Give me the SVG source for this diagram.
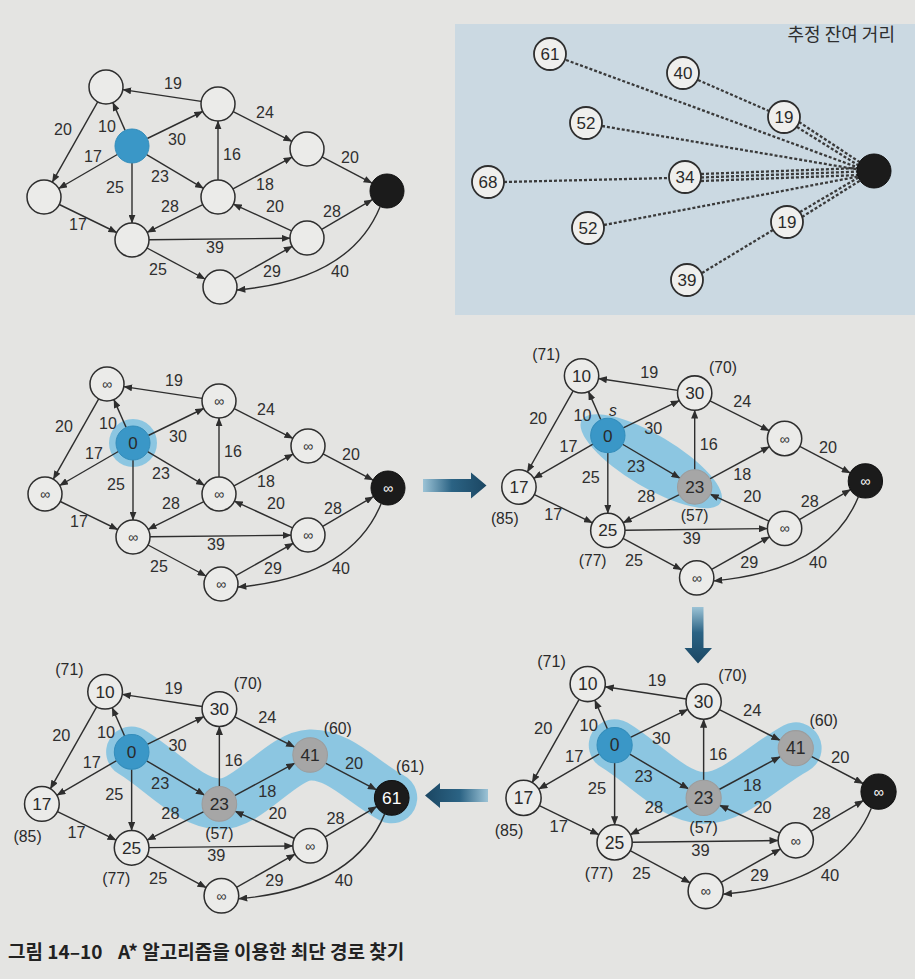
<svg xmlns="http://www.w3.org/2000/svg" width="915" height="979" viewBox="0 0 915 979">
<defs>
<style>
.e{fill:none;stroke:#2e2e2e;stroke-width:1.4;marker-end:url(#ah)}
.n{fill:#ebebe9;stroke:#2e2e2e;stroke-width:1.5}
.ns{fill:#3a97c7;stroke:#338dbb;stroke-width:1}
.nv{fill:#a6a6a6;stroke:#9c9c9c;stroke-width:1}
.nt{fill:#1b1b1b;stroke:#111;stroke-width:1}
.l{font-family:"Liberation Sans",Arial,sans-serif;font-size:16px;fill:#2f2f2f;text-anchor:middle}
.a{font-family:"Liberation Sans",Arial,sans-serif;font-size:15.5px;fill:#2a2a2a;text-anchor:middle}
.v{font-family:"Liberation Sans",Arial,sans-serif;font-size:17px;fill:#2a2a2a;text-anchor:middle}
.vw{font-family:"Liberation Sans",Arial,sans-serif;font-size:17px;fill:#ffffff;text-anchor:middle}
.inf{font-family:"Liberation Sans",Arial,sans-serif;font-size:14px;fill:#333;text-anchor:middle}
.infw{font-family:"Liberation Sans",Arial,sans-serif;font-size:14px;fill:#fff;text-anchor:middle}
.halo{fill:none;stroke:#7dc1e1;stroke-opacity:0.85;stroke-linecap:round;stroke-linejoin:round}
.hf{fill:#7dc1e1;fill-opacity:0.85}
.dot{fill:none;stroke:#3a3a3a;stroke-width:2.3;stroke-dasharray:3 2}
.sn{fill:#efefed;stroke:#2e2e2e;stroke-width:1.8}
.sv{font-family:"Liberation Sans",Arial,sans-serif;font-size:17px;fill:#2a2a2a;text-anchor:middle}
.cap{font-family:"Noto Sans CJK KR","Liberation Sans",sans-serif;font-size:19px;font-weight:bold;fill:#222}
</style>
<marker id="ah" viewBox="0 0 10 8" refX="9.5" refY="4" markerWidth="9" markerHeight="7" markerUnits="userSpaceOnUse" orient="auto"><path d="M0,0L10,4L0,8z" fill="#2e2e2e"/></marker>
<linearGradient id="gR" x1="423" y1="0" x2="487" y2="0" gradientUnits="userSpaceOnUse"><stop offset="0" stop-color="#9cc3d6"/><stop offset="0.45" stop-color="#2b6384"/><stop offset="1" stop-color="#1b4662"/></linearGradient>
<linearGradient id="gD" x1="0" y1="607" x2="0" y2="664" gradientUnits="userSpaceOnUse"><stop offset="0" stop-color="#9cc3d6"/><stop offset="0.45" stop-color="#2b6384"/><stop offset="1" stop-color="#1b4662"/></linearGradient>
<linearGradient id="gL" x1="488" y1="0" x2="425" y2="0" gradientUnits="userSpaceOnUse"><stop offset="0" stop-color="#9cc3d6"/><stop offset="0.45" stop-color="#2b6384"/><stop offset="1" stop-color="#1b4662"/></linearGradient>
</defs>
<rect x="0" y="0" width="915" height="979" fill="#e4e4e2"/>

<!-- Panel 1 -->
<g id="panel1">
<g id="p1-edges">
<path class="e" d="M201.2,101.4L122.8,89.6"/><path class="e" d="M97.7,101.8L52.3,182.2"/><path class="e" d="M125.1,130.4L112.9,102.6"/><path class="e" d="M147.3,138.5L202.7,111.5"/><path class="e" d="M117.3,154.5L58.7,188.5"/><path class="e" d="M146.6,154.7L203.4,188.3"/><path class="e" d="M132,163L132,223"/><path class="e" d="M218,180L218,121"/><path class="e" d="M233.2,111.7L291.8,141.3"/><path class="e" d="M233,188.9L292,157.1"/><path class="e" d="M322,156.9L372,183.1"/><path class="e" d="M202.8,204.6L147.2,232.4"/><path class="e" d="M291.6,230.9L233.4,204.1"/><path class="e" d="M321.7,229.4L372.3,199.6"/><path class="e" d="M59.3,204.5L116.7,232.5"/><path class="e" d="M149,239.8L290,238.2"/><path class="e" d="M147,248L205,279"/><path class="e" d="M234.8,278.7L292.2,246.3"/><path class="e" d="M380,207Q350,280 237,290"/>
</g>
<g id="p1-labels">
<text class="l" x="173" y="89">19</text><text class="l" x="63" y="135">20</text><text class="l" x="107" y="132">10</text><text class="l" x="177" y="145">30</text><text class="l" x="265" y="118">24</text><text class="l" x="93" y="162">17</text><text class="l" x="232" y="160">16</text><text class="l" x="350" y="163">20</text><text class="l" x="160" y="182">23</text><text class="l" x="115" y="193">25</text><text class="l" x="265" y="190">18</text><text class="l" x="170" y="212">28</text><text class="l" x="275" y="212">20</text><text class="l" x="332" y="217">28</text><text class="l" x="78" y="230">17</text><text class="l" x="215" y="253">39</text><text class="l" x="158" y="275">25</text><text class="l" x="272" y="277">29</text><text class="l" x="340" y="277">40</text>
</g>
<g id="p1-A"><circle class="n" cx="106" cy="87" r="17"/></g>
<g id="p1-B"><circle class="n" cx="218" cy="104" r="17"/></g>
<g id="p1-S"><circle class="ns" cx="132" cy="146" r="17"/></g>
<g id="p1-C"><circle class="n" cx="307" cy="149" r="17"/></g>
<g id="p1-T"><circle class="nt" cx="387" cy="191" r="17"/></g>
<g id="p1-D"><circle class="n" cx="44" cy="197" r="17"/></g>
<g id="p1-E"><circle class="n" cx="218" cy="197" r="17"/></g>
<g id="p1-F"><circle class="n" cx="132" cy="240" r="17"/></g>
<g id="p1-G"><circle class="n" cx="307" cy="238" r="17"/></g>
<g id="p1-H"><circle class="n" cx="220" cy="287" r="17"/></g>
</g>

<!-- Estimated remaining distance panel -->
<g id="heuristic">
<rect x="455" y="24" width="460" height="291" fill="#cbd9e2"/>
<text x="895" y="41" font-family="Noto Sans CJK KR, Liberation Sans, sans-serif" font-size="18" fill="#2e2e2e" text-anchor="end">추정 잔여 거리</text>
<g id="h-lines">
<line class="dot" x1="566" y1="60" x2="862" y2="169"/>
<line class="dot" x1="698" y1="80" x2="769" y2="111"/>
<line class="dot" x1="799" y1="122" x2="861" y2="163"/>
<line class="dot" x1="797" y1="127" x2="861" y2="167"/>
<line class="dot" x1="602" y1="126" x2="861" y2="170"/>
<line class="dot" x1="504" y1="182" x2="669" y2="178"/>
<line class="dot" x1="701" y1="174" x2="861" y2="168"/>
<line class="dot" x1="701" y1="177.5" x2="861" y2="171.5"/>
<line class="dot" x1="701" y1="181" x2="861" y2="175"/>
<line class="dot" x1="604" y1="225" x2="861" y2="176"/>
<line class="dot" x1="702" y1="273" x2="773" y2="230"/>
<line class="dot" x1="800" y1="212" x2="861" y2="176"/>
<line class="dot" x1="802" y1="217" x2="861" y2="180"/>
</g>
<g id="h-61"><circle class="sn" cx="550" cy="54" r="16"/><text class="sv" x="550" y="60">61</text></g>
<g id="h-40"><circle class="sn" cx="683" cy="73" r="16"/><text class="sv" x="683" y="79">40</text></g>
<g id="h-19a"><circle class="sn" cx="784" cy="117" r="16"/><text class="sv" x="784" y="123">19</text></g>
<g id="h-52a"><circle class="sn" cx="586" cy="123" r="16"/><text class="sv" x="586" y="129">52</text></g>
<g id="h-68"><circle class="sn" cx="488" cy="182" r="16"/><text class="sv" x="488" y="188">68</text></g>
<g id="h-34"><circle class="sn" cx="685" cy="177" r="16"/><text class="sv" x="685" y="183">34</text></g>
<g id="h-52b"><circle class="sn" cx="588" cy="228" r="16"/><text class="sv" x="588" y="234">52</text></g>
<g id="h-19b"><circle class="sn" cx="787" cy="222" r="16"/><text class="sv" x="787" y="228">19</text></g>
<g id="h-39"><circle class="sn" cx="687" cy="280" r="16"/><text class="sv" x="687" y="286">39</text></g>
<g id="h-goal"><circle class="nt" cx="874" cy="171" r="17"/></g>
</g>

<!-- Panel 2 -->
<g id="panel2" transform="translate(1,297)">
<circle class="hf" cx="132" cy="146" r="24"/>
<g id="p2-edges">
<path class="e" d="M201.2,101.4L122.8,89.6"/><path class="e" d="M97.7,101.8L52.3,182.2"/><path class="e" d="M125.1,130.4L112.9,102.6"/><path class="e" d="M147.3,138.5L202.7,111.5"/><path class="e" d="M117.3,154.5L58.7,188.5"/><path class="e" d="M146.6,154.7L203.4,188.3"/><path class="e" d="M132,163L132,223"/><path class="e" d="M218,180L218,121"/><path class="e" d="M233.2,111.7L291.8,141.3"/><path class="e" d="M233,188.9L292,157.1"/><path class="e" d="M322,156.9L372,183.1"/><path class="e" d="M202.8,204.6L147.2,232.4"/><path class="e" d="M291.6,230.9L233.4,204.1"/><path class="e" d="M321.7,229.4L372.3,199.6"/><path class="e" d="M59.3,204.5L116.7,232.5"/><path class="e" d="M149,239.8L290,238.2"/><path class="e" d="M147,248L205,279"/><path class="e" d="M234.8,278.7L292.2,246.3"/><path class="e" d="M380,207Q350,280 237,290"/>
</g>
<g id="p2-labels">
<text class="l" x="173" y="89">19</text><text class="l" x="63" y="135">20</text><text class="l" x="107" y="132">10</text><text class="l" x="177" y="145">30</text><text class="l" x="265" y="118">24</text><text class="l" x="93" y="162">17</text><text class="l" x="232" y="160">16</text><text class="l" x="350" y="163">20</text><text class="l" x="160" y="182">23</text><text class="l" x="115" y="193">25</text><text class="l" x="265" y="190">18</text><text class="l" x="170" y="212">28</text><text class="l" x="275" y="212">20</text><text class="l" x="332" y="217">28</text><text class="l" x="78" y="230">17</text><text class="l" x="215" y="253">39</text><text class="l" x="158" y="275">25</text><text class="l" x="272" y="277">29</text><text class="l" x="340" y="277">40</text>
</g>
<g id="p2-A"><circle class="n" cx="106" cy="87" r="17"/><text class="inf" x="106" y="92">∞</text></g>
<g id="p2-B"><circle class="n" cx="218" cy="104" r="17"/><text class="inf" x="218" y="109">∞</text></g>
<g id="p2-S"><circle class="ns" cx="132" cy="146" r="17"/><text class="v" x="132" y="152">0</text></g>
<g id="p2-C"><circle class="n" cx="307" cy="149" r="17"/><text class="inf" x="307" y="154">∞</text></g>
<g id="p2-T"><circle class="nt" cx="387" cy="191" r="17"/><text class="infw" x="387" y="196">∞</text></g>
<g id="p2-D"><circle class="n" cx="44" cy="197" r="17"/><text class="inf" x="44" y="202">∞</text></g>
<g id="p2-E"><circle class="n" cx="218" cy="197" r="17"/><text class="inf" x="218" y="202">∞</text></g>
<g id="p2-F"><circle class="n" cx="132" cy="240" r="17"/><text class="inf" x="132" y="245">∞</text></g>
<g id="p2-G"><circle class="n" cx="307" cy="238" r="17"/><text class="inf" x="307" y="243">∞</text></g>
<g id="p2-H"><circle class="n" cx="220" cy="287" r="17"/><text class="inf" x="220" y="292">∞</text></g>
</g>

<!-- Panel 3 -->
<g id="panel3" transform="translate(474.5,288) scale(1.01)">
<ellipse class="hf" cx="175" cy="171.5" rx="80" ry="26" transform="rotate(30.7 175 171.5)"/>
<g id="p3-edges">
<path class="e" d="M201.2,101.4L122.8,89.6"/><path class="e" d="M97.7,101.8L52.3,182.2"/><path class="e" d="M125.1,130.4L112.9,102.6"/><path class="e" d="M147.3,138.5L202.7,111.5"/><path class="e" d="M117.3,154.5L58.7,188.5"/><path class="e" d="M146.6,154.7L203.4,188.3"/><path class="e" d="M132,163L132,223"/><path class="e" d="M218,180L218,121"/><path class="e" d="M233.2,111.7L291.8,141.3"/><path class="e" d="M233,188.9L292,157.1"/><path class="e" d="M322,156.9L372,183.1"/><path class="e" d="M202.8,204.6L147.2,232.4"/><path class="e" d="M291.6,230.9L233.4,204.1"/><path class="e" d="M321.7,229.4L372.3,199.6"/><path class="e" d="M59.3,204.5L116.7,232.5"/><path class="e" d="M149,239.8L290,238.2"/><path class="e" d="M147,248L205,279"/><path class="e" d="M234.8,278.7L292.2,246.3"/><path class="e" d="M380,207Q350,280 237,290"/>
</g>
<g id="p3-labels">
<text class="l" x="173" y="89">19</text><text class="l" x="63" y="135">20</text><text class="l" x="107" y="132">10</text><text class="l" x="177" y="145">30</text><text class="l" x="265" y="118">24</text><text class="l" x="93" y="162">17</text><text class="l" x="232" y="160">16</text><text class="l" x="350" y="163">20</text><text class="l" x="160" y="182">23</text><text class="l" x="115" y="193">25</text><text class="l" x="265" y="190">18</text><text class="l" x="170" y="212">28</text><text class="l" x="275" y="212">20</text><text class="l" x="332" y="217">28</text><text class="l" x="78" y="230">17</text><text class="l" x="215" y="253">39</text><text class="l" x="158" y="275">25</text><text class="l" x="272" y="277">29</text><text class="l" x="340" y="277">40</text>
</g>
<g id="p3-notes">
<text class="a" x="71" y="71">(71)</text><text class="a" x="246" y="84">(70)</text><text class="a" x="137" y="127" font-style="italic">s</text><text class="a" x="30" y="234">(85)</text><text class="a" x="218" y="231">(57)</text><text class="a" x="117" y="275">(77)</text>
</g>
<g id="p3-A"><circle class="n" cx="106" cy="87" r="17"/><text class="v" x="106" y="93">10</text></g>
<g id="p3-B"><circle class="n" cx="218" cy="104" r="17"/><text class="v" x="218" y="110">30</text></g>
<g id="p3-S"><circle class="ns" cx="132" cy="146" r="17"/><text class="v" x="132" y="152">0</text></g>
<g id="p3-C"><circle class="n" cx="307" cy="149" r="17"/><text class="inf" x="307" y="154">∞</text></g>
<g id="p3-T"><circle class="nt" cx="387" cy="191" r="17"/><text class="infw" x="387" y="196">∞</text></g>
<g id="p3-D"><circle class="n" cx="44" cy="197" r="17"/><text class="v" x="44" y="203">17</text></g>
<g id="p3-E"><circle class="nv" cx="218" cy="197" r="17"/><text class="v" x="218" y="203">23</text></g>
<g id="p3-F"><circle class="n" cx="132" cy="240" r="17"/><text class="v" x="132" y="246">25</text></g>
<g id="p3-G"><circle class="n" cx="307" cy="238" r="17"/><text class="inf" x="307" y="243">∞</text></g>
<g id="p3-H"><circle class="n" cx="220" cy="287" r="17"/><text class="inf" x="220" y="292">∞</text></g>
</g>

<!-- Panel 4 (bottom-left) -->
<g id="panel4" transform="translate(-3,603) scale(1.02)">
<path class="halo" stroke-width="50" d="M132,146C160.7,163 188.8,196.5 218,197C247.2,197.5 278.8,150 307,149C335.2,148 360.3,177 387,191"/>
<g id="p4-edges">
<path class="e" d="M201.2,101.4L122.8,89.6"/><path class="e" d="M97.7,101.8L52.3,182.2"/><path class="e" d="M125.1,130.4L112.9,102.6"/><path class="e" d="M147.3,138.5L202.7,111.5"/><path class="e" d="M117.3,154.5L58.7,188.5"/><path class="e" d="M146.6,154.7L203.4,188.3"/><path class="e" d="M132,163L132,223"/><path class="e" d="M218,180L218,121"/><path class="e" d="M233.2,111.7L291.8,141.3"/><path class="e" d="M233,188.9L292,157.1"/><path class="e" d="M322,156.9L372,183.1"/><path class="e" d="M202.8,204.6L147.2,232.4"/><path class="e" d="M291.6,230.9L233.4,204.1"/><path class="e" d="M321.7,229.4L372.3,199.6"/><path class="e" d="M59.3,204.5L116.7,232.5"/><path class="e" d="M149,239.8L290,238.2"/><path class="e" d="M147,248L205,279"/><path class="e" d="M234.8,278.7L292.2,246.3"/><path class="e" d="M380,207Q350,280 237,290"/>
</g>
<g id="p4-labels">
<text class="l" x="173" y="89">19</text><text class="l" x="63" y="135">20</text><text class="l" x="107" y="132">10</text><text class="l" x="177" y="145">30</text><text class="l" x="265" y="118">24</text><text class="l" x="93" y="162">17</text><text class="l" x="232" y="160">16</text><text class="l" x="350" y="163">20</text><text class="l" x="160" y="182">23</text><text class="l" x="115" y="193">25</text><text class="l" x="265" y="190">18</text><text class="l" x="170" y="212">28</text><text class="l" x="275" y="212">20</text><text class="l" x="332" y="217">28</text><text class="l" x="78" y="230">17</text><text class="l" x="215" y="253">39</text><text class="l" x="158" y="275">25</text><text class="l" x="272" y="277">29</text><text class="l" x="340" y="277">40</text>
</g>
<g id="p4-notes">
<text class="a" x="71" y="71">(71)</text><text class="a" x="246" y="84">(70)</text><text class="a" x="334" y="128">(60)</text><text class="a" x="405" y="166">(61)</text><text class="a" x="30" y="234">(85)</text><text class="a" x="218" y="231">(57)</text><text class="a" x="117" y="275">(77)</text>
</g>
<g id="p4-A"><circle class="n" cx="106" cy="87" r="17"/><text class="v" x="106" y="93">10</text></g>
<g id="p4-B"><circle class="n" cx="218" cy="104" r="17"/><text class="v" x="218" y="110">30</text></g>
<g id="p4-S"><circle class="ns" cx="132" cy="146" r="17"/><text class="v" x="132" y="152">0</text></g>
<g id="p4-C"><circle class="nv" cx="307" cy="149" r="17"/><text class="v" x="307" y="155">41</text></g>
<g id="p4-T"><circle class="nt" cx="387" cy="191" r="17"/><text class="vw" x="387" y="197">61</text></g>
<g id="p4-D"><circle class="n" cx="44" cy="197" r="17"/><text class="v" x="44" y="203">17</text></g>
<g id="p4-E"><circle class="nv" cx="218" cy="197" r="17"/><text class="v" x="218" y="203">23</text></g>
<g id="p4-F"><circle class="n" cx="132" cy="240" r="17"/><text class="v" x="132" y="246">25</text></g>
<g id="p4-G"><circle class="n" cx="307" cy="238" r="17"/><text class="inf" x="307" y="243">∞</text></g>
<g id="p4-H"><circle class="n" cx="220" cy="287" r="17"/><text class="inf" x="220" y="292">∞</text></g>
</g>

<!-- Panel 5 (bottom-right) -->
<g id="panel5" transform="translate(478,594) scale(1.035)">
<path class="halo" stroke-width="50" d="M132,146C160.7,163 188.8,196.5 218,197C247.2,197.5 277.3,165 307,149"/>
<g id="p5-edges">
<path class="e" d="M201.2,101.4L122.8,89.6"/><path class="e" d="M97.7,101.8L52.3,182.2"/><path class="e" d="M125.1,130.4L112.9,102.6"/><path class="e" d="M147.3,138.5L202.7,111.5"/><path class="e" d="M117.3,154.5L58.7,188.5"/><path class="e" d="M146.6,154.7L203.4,188.3"/><path class="e" d="M132,163L132,223"/><path class="e" d="M218,180L218,121"/><path class="e" d="M233.2,111.7L291.8,141.3"/><path class="e" d="M233,188.9L292,157.1"/><path class="e" d="M322,156.9L372,183.1"/><path class="e" d="M202.8,204.6L147.2,232.4"/><path class="e" d="M291.6,230.9L233.4,204.1"/><path class="e" d="M321.7,229.4L372.3,199.6"/><path class="e" d="M59.3,204.5L116.7,232.5"/><path class="e" d="M149,239.8L290,238.2"/><path class="e" d="M147,248L205,279"/><path class="e" d="M234.8,278.7L292.2,246.3"/><path class="e" d="M380,207Q350,280 237,290"/>
</g>
<g id="p5-labels">
<text class="l" x="173" y="89">19</text><text class="l" x="63" y="135">20</text><text class="l" x="107" y="132">10</text><text class="l" x="177" y="145">30</text><text class="l" x="265" y="118">24</text><text class="l" x="93" y="162">17</text><text class="l" x="232" y="160">16</text><text class="l" x="350" y="163">20</text><text class="l" x="160" y="182">23</text><text class="l" x="115" y="193">25</text><text class="l" x="265" y="190">18</text><text class="l" x="170" y="212">28</text><text class="l" x="275" y="212">20</text><text class="l" x="332" y="217">28</text><text class="l" x="78" y="230">17</text><text class="l" x="215" y="253">39</text><text class="l" x="158" y="275">25</text><text class="l" x="272" y="277">29</text><text class="l" x="340" y="277">40</text>
</g>
<g id="p5-notes">
<text class="a" x="71" y="71">(71)</text><text class="a" x="246" y="84">(70)</text><text class="a" x="334" y="128">(60)</text><text class="a" x="30" y="234">(85)</text><text class="a" x="218" y="231">(57)</text><text class="a" x="117" y="275">(77)</text>
</g>
<g id="p5-A"><circle class="n" cx="106" cy="87" r="17"/><text class="v" x="106" y="93">10</text></g>
<g id="p5-B"><circle class="n" cx="218" cy="104" r="17"/><text class="v" x="218" y="110">30</text></g>
<g id="p5-S"><circle class="ns" cx="132" cy="146" r="17"/><text class="v" x="132" y="152">0</text></g>
<g id="p5-C"><circle class="nv" cx="307" cy="149" r="17"/><text class="v" x="307" y="155">41</text></g>
<g id="p5-T"><circle class="nt" cx="387" cy="191" r="17"/><text class="infw" x="387" y="196">∞</text></g>
<g id="p5-D"><circle class="n" cx="44" cy="197" r="17"/><text class="v" x="44" y="203">17</text></g>
<g id="p5-E"><circle class="nv" cx="218" cy="197" r="17"/><text class="v" x="218" y="203">23</text></g>
<g id="p5-F"><circle class="n" cx="132" cy="240" r="17"/><text class="v" x="132" y="246">25</text></g>
<g id="p5-G"><circle class="n" cx="307" cy="238" r="17"/><text class="inf" x="307" y="243">∞</text></g>
<g id="p5-H"><circle class="n" cx="220" cy="287" r="17"/><text class="inf" x="220" y="292">∞</text></g>
</g>

<!-- Step arrows -->
<g id="step-arrows">
<path id="arrow-right" fill="url(#gR)" d="M423,479L471,479L471,472.5L486.5,485.5L471,498.5L471,492L423,492Z"/>
<path id="arrow-down" fill="url(#gD)" d="M692,607L703.5,607L703.5,648L712,648L698,663.5L684.5,648L692,648Z"/>
<path id="arrow-left" fill="url(#gL)" d="M425,795.5L440,783L440,789L488,789L488,802L440,802L440,808Z"/>
</g>

<g id="caption">
<text class="cap" x="8" y="959">그림 14–10</text>
<text class="cap" x="118" y="959">A* 알고리즘을 이용한 최단 경로 찾기</text>
</g>
</svg>
